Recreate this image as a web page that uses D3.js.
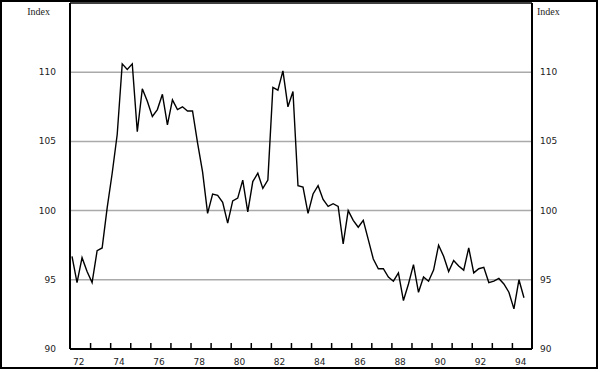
<!DOCTYPE html>
<html>
<head>
<meta charset="utf-8">
<script src="https://cdnjs.cloudflare.com/ajax/libs/d3/7.8.5/d3.min.js"></script>
<style>
    body { margin: 0; background: #fff; }
    .num { font-family: "DejaVu Sans", sans-serif; font-size: 9px; fill: #222; }
    .ttl { font-family: "Liberation Serif", serif; font-size: 10px; fill: #222; }
</style>
</head>
<body>
<div class="E"></div>
<script>
// quarterly index, 1972 Q1 .. 1994 Q3
var startYear = 1972;
var indexValues = [
    96.7, 94.8, 96.6, 95.6, 94.8, 97.1, 97.3, 100.2, 102.7, 105.5,
    110.6, 110.2, 110.6, 105.7, 108.8, 107.9, 106.8, 107.3, 108.4, 106.2,
    108.0, 107.3, 107.5, 107.2, 107.2, 104.9, 102.8, 99.8, 101.2, 101.1,
    100.6, 99.1, 100.7, 100.9, 102.2, 99.9, 102.1, 102.7, 101.6, 102.2,
    108.9, 108.7, 110.1, 107.5, 108.6, 101.8, 101.7, 99.8, 101.2, 101.8,
    100.8, 100.3, 100.5, 100.3, 97.6, 100.0, 99.3, 98.8, 99.3, 97.9,
    96.5, 95.8, 95.8, 95.2, 94.9, 95.5, 93.5, 94.7, 96.1, 94.1,
    95.2, 94.9, 95.7, 97.5, 96.7, 95.6, 96.4, 96.0, 95.7, 97.3,
    95.5, 95.8, 95.9, 94.8, 94.9, 95.1, 94.7, 94.1, 92.9, 95.0,
    93.7
];
var yTicks = [90, 95, 100, 105, 110];
var gridValues = [95, 100, 105, 110];
var yearTicks = d3.range(1973, 1995);
var yearLabels = ["72", "74", "76", "78", "80", "82", "84", "86", "88", "90", "92", "94"];

function initChart() {
    var width = 600, height = 372;
    var svg = d3.select(".E").append('svg').attr('width', width).attr('height', height);

    var x = d3.scaleLinear().domain([1972, 1995]).range([70, 532]);
    var y = d3.scaleLinear().domain([90, 115]).range([349, 3]);

    // outer frame
    svg.append('rect').attr('x', 1).attr('y', 1).attr('width', 596).attr('height', 367)
        .attr('fill', 'none').attr('stroke', '#000').attr('stroke-width', 2);

    // grid
    svg.append('g').selectAll('line').data(gridValues).enter().append('line')
        .attr('x1', x(1972)).attr('x2', x(1995))
        .attr('y1', function (d) { return y(d); }).attr('y2', function (d) { return y(d); })
        .attr('stroke', '#aaa').attr('stroke-width', 1.5);

    // left / right labels
    svg.append('g').selectAll('text').data(yTicks).enter().append('text')
        .attr('class', 'num').attr('x', 56).attr('y', function (d) { return y(d) + 3; })
        .attr('text-anchor', 'end').text(function (d) { return d; });
    svg.append('g').selectAll('text').data(yTicks).enter().append('text')
        .attr('class', 'num').attr('x', 540).attr('y', function (d) { return y(d) + 3; })
        .text(function (d) { return d; });

    svg.append('text').attr('class', 'ttl').attr('x', 50).attr('y', 15).attr('text-anchor', 'end').text('Index');
    svg.append('text').attr('class', 'ttl').attr('x', 537).attr('y', 15).text('Index');

    // bottom axis with inside ticks
    svg.append("g")
        .attr("transform", "translate(0," + y(90) + ")")
        .call(d3.axisTop(x).tickValues(yearTicks).tickSize(6).tickFormat(''))
        .call(function (g) {
            g.select('.domain').remove();
            g.selectAll('.tick line').attr('stroke', '#000').attr('stroke-width', 1.5);
        });

    svg.append('g').selectAll('text').data(yearLabels).enter().append('text')
        .attr('class', 'num')
        .attr('x', function (d) { return x(1900 + (+d)) + 3; })
        .attr('y', 365)
        .text(function (d) { return d; });

    // plot box
    svg.append('line').attr('x1', x(1972)).attr('x2', x(1995)).attr('y1', y(115)).attr('y2', y(115))
        .attr('stroke', '#000').attr('stroke-width', 1.5);
    svg.append('line').attr('x1', x(1972)).attr('x2', x(1995)).attr('y1', y(90)).attr('y2', y(90))
        .attr('stroke', '#000').attr('stroke-width', 2);
    svg.append('line').attr('x1', x(1972)).attr('x2', x(1972)).attr('y1', y(115)).attr('y2', y(90))
        .attr('stroke', '#000').attr('stroke-width', 2);
    svg.append('line').attr('x1', x(1995)).attr('x2', x(1995)).attr('y1', y(115)).attr('y2', y(90))
        .attr('stroke', '#000').attr('stroke-width', 2);

    var line = d3.line()
        .x(function (d, i) { return x(startYear + (i + 0.4) / 4); })
        .y(function (d) { return y(d); });

    svg.append('path').datum(indexValues)
        .attr('d', line)
        .attr('fill', 'none')
        .attr('stroke', '#000')
        .attr('stroke-width', 1.4)
        .attr('stroke-linejoin', 'miter');
}

initChart();
</script>
</body>
</html>
